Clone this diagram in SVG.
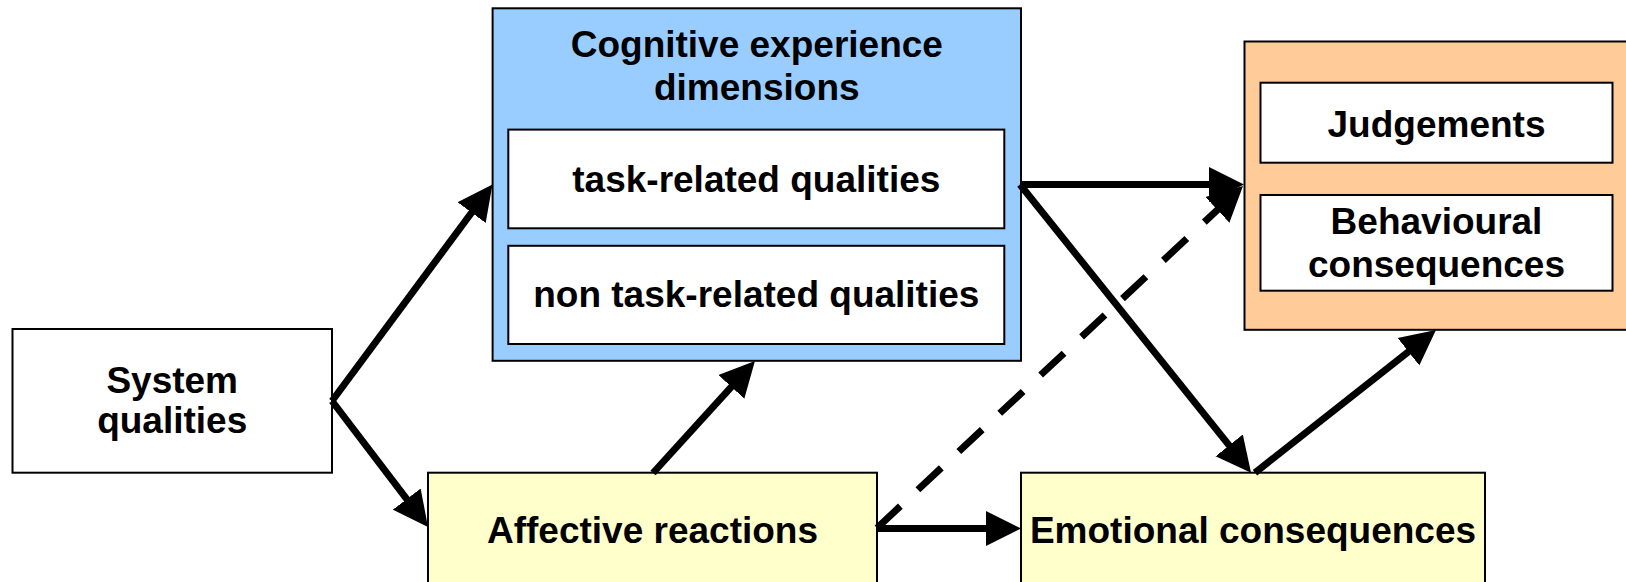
<svg xmlns="http://www.w3.org/2000/svg" width="1626" height="582" viewBox="0 0 1626 582">
  <style>
    .box { stroke: #000; stroke-width: 2; }
    .white { fill: #ffffff; }
    .blue { fill: #99ccff; }
    .yellow { fill: #ffffcc; }
    .orange { fill: #ffcc99; }
    text { font-family: "Liberation Sans", Arial, sans-serif; font-weight: bold; font-size: 37px; fill: #000; text-anchor: middle; }
    .link { stroke: #000; stroke-width: 7; fill: none; marker-end: url(#head); }
    .dashed { stroke-dasharray: 32 24; }
  </style>
  <defs>
    <marker id="head" markerUnits="userSpaceOnUse" markerWidth="36" markerHeight="36" viewBox="0 0 36 36" refX="25" refY="18" orient="auto">
      <path d="M0,0.5 L35,18 L0,35.5 z" fill="#000"/>
    </marker>
  </defs>

  <rect width="1626" height="582" fill="#ffffff"/>

  <g id="system-qualities">
    <rect class="box white" x="12.5" y="329" width="319.5" height="143.7"/>
    <text x="172.2" y="393.3">System</text>
    <text x="172.2" y="432.7">qualities</text>
  </g>

  <g id="cognitive-dimensions">
    <rect class="box blue" x="492.6" y="8.3" width="528.4" height="352.5"/>
    <text x="756.8" y="57.3">Cognitive experience</text>
    <text x="756.8" y="100">dimensions</text>
  </g>

  <g id="task-related">
    <rect class="box white" x="508.3" y="129.6" width="496" height="98.7"/>
    <text x="756.3" y="192.3">task-related qualities</text>
  </g>

  <g id="non-task-related">
    <rect class="box white" x="508.3" y="245.8" width="496" height="98.2"/>
    <text x="756.3" y="307.3">non task-related qualities</text>
  </g>

  <g id="consequences">
    <rect class="box orange" x="1244.5" y="41.5" width="400" height="288.3"/>
  </g>

  <g id="judgements">
    <rect class="box white" x="1260.5" y="82.7" width="352" height="80"/>
    <text x="1436.5" y="136.7">Judgements</text>
  </g>

  <g id="behavioural-consequences">
    <rect class="box white" x="1260.5" y="195" width="352" height="95.7"/>
    <text x="1436.5" y="234">Behavioural</text>
    <text x="1436.5" y="277">consequences</text>
  </g>

  <g id="affective-reactions">
    <rect class="box yellow" x="428" y="472.7" width="449" height="114"/>
    <text x="652.5" y="542.7">Affective reactions</text>
  </g>

  <g id="emotional-consequences">
    <rect class="box yellow" x="1021" y="472.7" width="464" height="114"/>
    <text x="1253" y="542.7">Emotional consequences</text>
  </g>

  <g id="connectors">
    <!-- system qualities to cognitive dimensions -->
    <line class="link" x1="332" y1="401" x2="486.5" y2="192.5"/>
    <!-- system qualities to affective reactions -->
    <line class="link" x1="332" y1="401" x2="421.9" y2="519"/>
    <!-- affective reactions to cognitive dimensions -->
    <line class="link" x1="653" y1="473" x2="748.2" y2="368.4"/>
    <!-- task-related qualities to judgements -->
    <line class="link" x1="1020" y1="184.5" x2="1234" y2="184.5"/>
    <!-- task-related qualities to emotional consequences -->
    <line class="link" x1="1020" y1="184.5" x2="1244.8" y2="464.9"/>
    <!-- affective reactions to judgements (indirect) -->
    <line class="link dashed" x1="877" y1="528" x2="1235.7" y2="192.8"/>
    <!-- affective reactions to emotional consequences -->
    <line class="link" x1="877" y1="528.5" x2="1011" y2="528.5"/>
    <!-- emotional consequences to behavioural consequences -->
    <line class="link" x1="1255" y1="472.7" x2="1428.1" y2="336.2"/>
  </g>
</svg>
